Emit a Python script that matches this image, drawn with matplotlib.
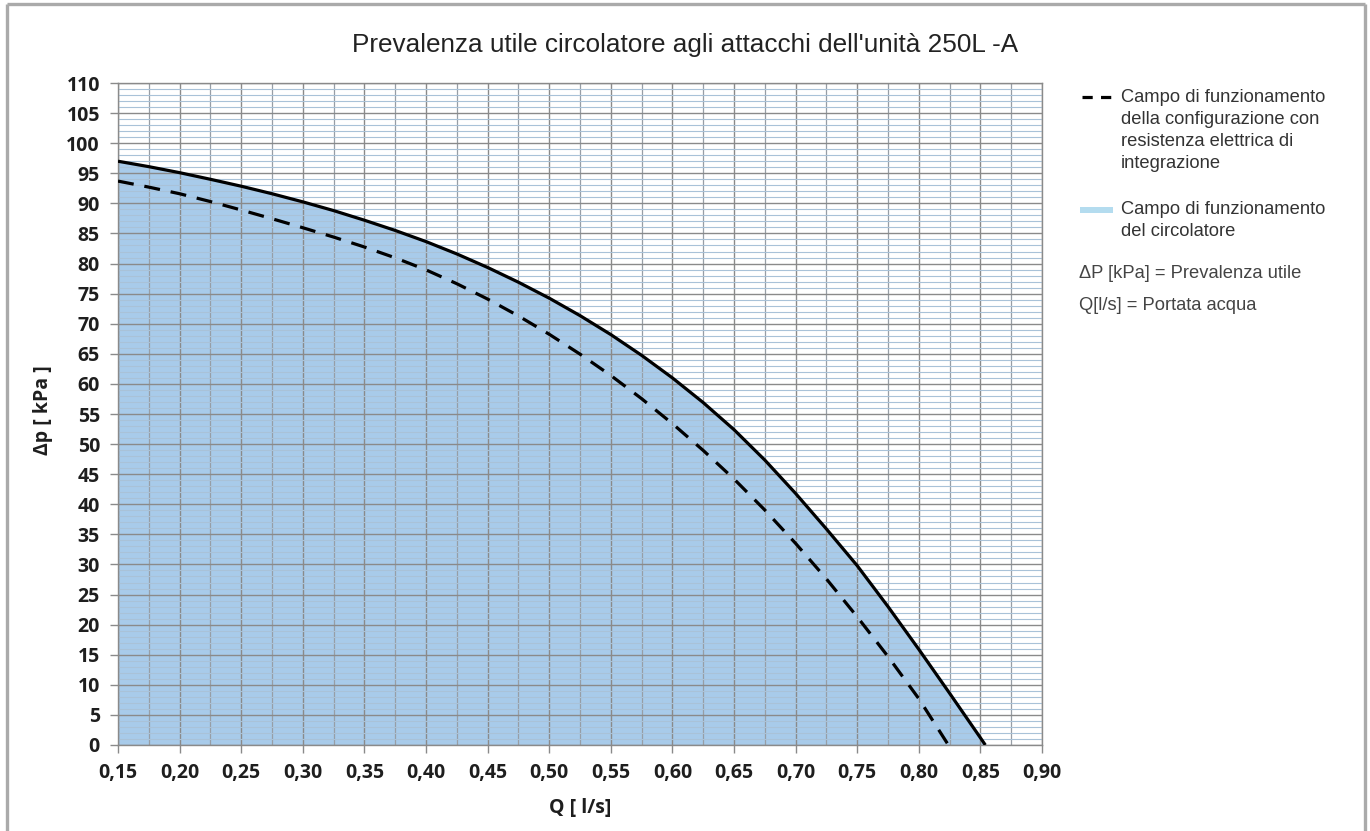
import matplotlib
matplotlib.use("Agg")
import matplotlib.pyplot as plt
from matplotlib.lines import Line2D
from matplotlib.patches import Rectangle
import numpy as np

# ---- data ----
q_solid = [0.15, 0.175, 0.20, 0.225, 0.25, 0.275, 0.30, 0.325, 0.35, 0.375,
           0.40, 0.425, 0.45, 0.475, 0.50, 0.525, 0.55, 0.575, 0.60, 0.625,
           0.65, 0.675, 0.70, 0.725, 0.75, 0.775, 0.80, 0.825, 0.85, 0.854]
dp_solid = [97.0, 96.1, 95.1, 94.0, 92.85, 91.6, 90.25, 88.8, 87.2, 85.5,
            83.65, 81.6, 79.35, 76.9, 74.25, 71.35, 68.2, 64.75, 61.0, 56.9,
            52.4, 47.35, 41.8, 35.9, 29.8, 23.0, 15.9, 8.6, 1.2, 0.0]

q_dash = [0.15, 0.175, 0.20, 0.225, 0.25, 0.275, 0.30, 0.325, 0.35, 0.375,
          0.40, 0.425, 0.45, 0.475, 0.50, 0.525, 0.55, 0.575, 0.60, 0.625,
          0.65, 0.675, 0.70, 0.725, 0.75, 0.775, 0.80, 0.824]
dp_dash = [93.7, 92.7, 91.6, 90.3, 88.9, 87.45, 85.95, 84.4, 82.75, 80.95,
           78.95, 76.65, 74.1, 71.3, 68.25, 64.95, 61.4, 57.55, 53.4, 48.95,
           44.2, 39.05, 33.5, 27.6, 21.3, 14.7, 7.7, 0.0]

x_ticks = [0.15, 0.20, 0.25, 0.30, 0.35, 0.40, 0.45, 0.50, 0.55, 0.60,
           0.65, 0.70, 0.75, 0.80, 0.85, 0.90]
x_tick_labels = ["0,15", "0,20", "0,25", "0,30", "0,35", "0,40", "0,45", "0,50",
                 "0,55", "0,60", "0,65", "0,70", "0,75", "0,80", "0,85", "0,90"]
y_ticks = list(range(0, 111, 5))

title = "Prevalenza utile circolatore agli attacchi dell'unità 250L -A"
xlabel = "Q [ l/s]"
ylabel = "Δp [ kPa ]"
legend_dash_lines = ["Campo di funzionamento", "della configurazione con",
                     "resistenza elettrica di", "integrazione"]
legend_fill_lines = ["Campo di funzionamento", "del circolatore"]
note_lines = ["ΔP [kPa] = Prevalenza utile", "Q[l/s] = Portata acqua"]

W, H = 1370, 831
fig = plt.figure(figsize=(W / 100, H / 100), dpi=100)
fig.patch.set_facecolor("white")

def fx(px):
    return px / W

def fy(py):
    return 1 - py / H

ax = fig.add_axes([fx(118), fy(745), fx(1042) - fx(118), fy(83) - fy(745)])
ax.set_xlim(0.15, 0.90)
ax.set_ylim(0, 110)
ax.set_axisbelow(True)

# fill under the circulator curve
ax.fill_between(q_solid, dp_solid, 0, color="#a8cbea", lw=0, zorder=0.2)

# grid
ax.set_xticks(x_ticks)
ax.set_xticks(np.arange(0.175, 0.90, 0.05), minor=True)
ax.set_yticks(y_ticks)
ax.set_yticks([v for v in range(0, 111) if v % 5 != 0], minor=True)
ax.grid(which="major", axis="both", color="#8a8a8a", lw=1.0)
ax.grid(which="minor", axis="x", color="#979ea6", lw=0.9)
ax.grid(which="minor", axis="y", color="#a9c2d8", lw=0.8)

ax.plot(q_solid, dp_solid, color="black", lw=2.3, zorder=3, solid_capstyle="butt")
ax.plot(q_dash, dp_dash, color="black", lw=2.3, zorder=3, dashes=(5.0, 3.4))

for s in ax.spines.values():
    s.set_color("#8a8a8a")
    s.set_linewidth(1.0)

ax.set_xticklabels(x_tick_labels)
ax.tick_params(which="major", direction="out", length=6, width=1, color="#8a8a8a",
               labelsize=14, pad=7)
ax.tick_params(which="minor", length=0)
for lab in ax.get_xticklabels() + ax.get_yticklabels():
    lab.set_fontfamily("Open Sans")
    lab.set_fontweight("bold")
    lab.set_color("#1e1e1e")

fig.text(fx(580), fy(808), xlabel, ha="center", va="center", fontsize=14,
         fontweight="bold", family="Open Sans", color="#1e1e1e")
fig.text(fx(43), fy(410), ylabel, ha="center", va="center", fontsize=14,
         fontweight="bold", family="Open Sans", color="#1e1e1e", rotation=90)

fig.text(fx(685), fy(45), title, ha="center", va="center", fontsize=18.8,
         family="Liberation Sans", color="#222222")

# legend (drawn manually)
fs = 13.2
tx = fx(1121)
for i, t in enumerate(legend_dash_lines):
    fig.text(tx, fy(97 + 22 * i), t, ha="left", va="center", fontsize=fs,
             family="Liberation Sans", color="#333333")
fig.add_artist(Line2D([fx(1082), fx(1117)], [fy(97), fy(97)], color="black",
                      lw=2.3, dashes=(3.2, 2.6), transform=fig.transFigure))
for i, t in enumerate(legend_fill_lines):
    fig.text(tx, fy(210 + 22 * i), t, ha="left", va="center", fontsize=fs,
             family="Liberation Sans", color="#333333")
fig.add_artist(Rectangle((fx(1080), fy(213)), fx(33), 6 / H, color="#b4dcef",
                         lw=0, transform=fig.transFigure))
for i, t in enumerate(note_lines):
    fig.text(fx(1079), fy(273 + 32 * i), t, ha="left", va="center", fontsize=fs,
             family="Liberation Sans", color="#444444")

# outer frame (left, top, right)
frame_kw = dict(color="#aaaaaa", lw=2.4, transform=fig.transFigure, solid_capstyle="butt")
fig.add_artist(Line2D([fx(7), fx(7)], [0, fy(4)], **frame_kw))
fig.add_artist(Line2D([fx(7), fx(1365)], [fy(4), fy(4)], **frame_kw))
fig.add_artist(Line2D([fx(1365), fx(1365)], [fy(4), 0], **frame_kw))

fig.savefig("out.png", dpi=100, facecolor="white")
